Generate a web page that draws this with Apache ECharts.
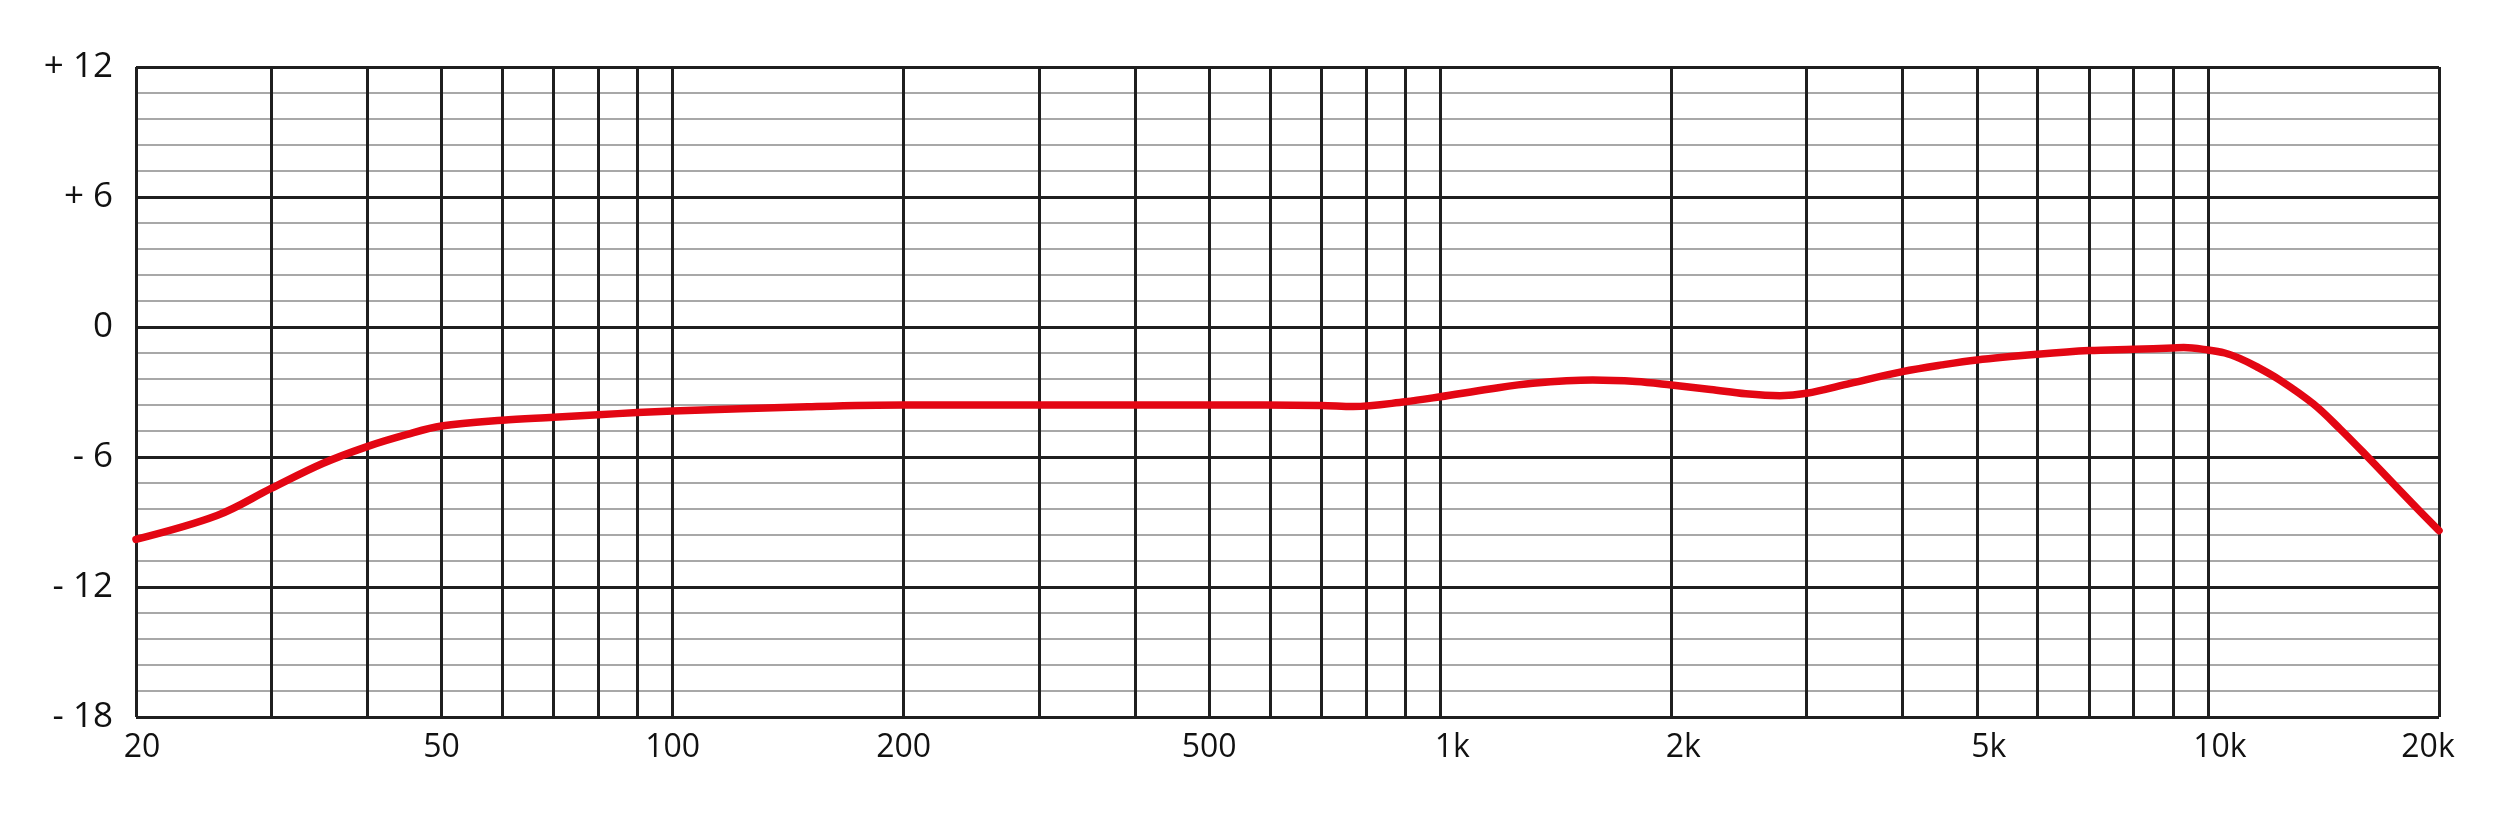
<!DOCTYPE html>
<html>
<head>
<meta charset="utf-8">
<script src="https://cdn.jsdelivr.net/npm/echarts@6/dist/echarts.min.js"></script>
<style>
html,body{margin:0;padding:0;background:#fff;}
#chart{width:2514px;height:816px;}
</style>
</head>
<body>
<div id="chart"></div>
<script>
// Frequency response data (Hz, dB)
const freqs = [20, 25.5, 30, 35, 40, 45, 50, 60, 70, 80, 90, 100, 150, 200, 300, 500, 700, 770, 900, 1000, 1160, 1320, 1580, 1800, 2000, 2250, 2500, 2770, 3000, 3420, 4000, 4500, 5000, 6000, 7000, 8000, 9000, 9300, 10000, 10520, 11000, 11570, 12410, 13720, 14860, 16100, 17350, 18700, 20000];
const levels = [-9.8, -8.7, -7.45, -6.3, -5.52, -4.97, -4.57, -4.3, -4.17, -4.05, -3.95, -3.88, -3.68, -3.6, -3.6, -3.6, -3.62, -3.67, -3.45, -3.22, -2.86, -2.6, -2.45, -2.52, -2.68, -2.88, -3.08, -3.17, -3.06, -2.6, -2.06, -1.75, -1.52, -1.26, -1.09, -1.03, -0.97, -0.95, -1.06, -1.2, -1.45, -1.83, -2.45, -3.55, -4.7, -5.95, -7.15, -8.35, -9.4];

// Vertical grid line frequencies
const gridFreqs = [20, 30, 40, 50, 60, 70, 80, 90, 100, 200, 300, 400, 500, 600, 700, 800, 900, 1000, 2000, 3000, 4000, 5000, 6000, 7000, 8000, 9000, 10000, 20000];
// X tick labels
const xLabelFreqs = [20, 50, 100, 200, 500, 1000, 2000, 5000, 10000, 20000];
const xLabelTexts = ['20', '50', '100', '200', '500', '1k', '2k', '5k', '10k', '20k'];
// Y tick labels
const yTicks = [-18, -12, -6, 0, 6, 12];
const yTickLabels = ['- 18', '- 12', '- 6', '0', '+ 6', '+ 12'];

const FONT = '"Open Sans", "Noto Sans", sans-serif';
const DARK = '#1f1f1f';

function labelPadding(i) {
  const t = xLabelTexts[i];
  if (i === 0) return [0, 0, 0, 12];
  if (i === xLabelTexts.length - 1) return [0, 22, 0, 0];
  if (t.endsWith('k')) return [0, 0, 0, 24];
  return [0, 0, 0, 0];
}

const markData = gridFreqs.map(function (f) {
  const li = xLabelFreqs.indexOf(f);
  const item = { xAxis: f };
  if (li >= 0) {
    item.label = {
      show: true,
      position: 'start',
      distance: 15,
      formatter: '{t|' + xLabelTexts[li] + '}',
      rich: { t: { fontSize: 32, fontFamily: FONT, color: '#111', padding: labelPadding(li) } }
    };
  } else {
    item.label = { show: false };
  }
  return item;
});

const chart = echarts.init(document.getElementById('chart'), null, { renderer: 'canvas' });
chart.setOption({
  animation: false,
  backgroundColor: '#ffffff',
  grid: { left: 136, right: 75, top: 67, bottom: 99, containLabel: false },
  xAxis: {
    type: 'log',
    logBase: 10,
    min: 20,
    max: 20000,
    axisLine: { show: false, onZero: false },
    axisTick: { show: false },
    axisLabel: { show: false },
    splitLine: { show: false }
  },
  yAxis: {
    type: 'value',
    min: -18,
    max: 12,
    interval: 6,
    axisLine: { show: false },
    axisTick: { show: false },
    axisLabel: {
      margin: 23,
      fontSize: 35,
      fontFamily: FONT,
      color: '#111',
      formatter: function (v) {
        const i = yTicks.indexOf(v);
        return i >= 0 ? yTickLabels[i] : '';
      }
    },
    splitLine: { show: true, lineStyle: { color: DARK, width: 3 } },
    minorTick: { show: false, splitNumber: 5 },
    minorSplitLine: { show: true, lineStyle: { color: '#8c8c8c', width: 1.5 } }
  },
  series: [
    {
      type: 'line',
      name: 'grid',
      data: [],
      z: 1,
      silent: true,
      markLine: {
        silent: true,
        symbol: ['none', 'none'],
        animation: false,
        emphasis: { disabled: true },
        lineStyle: { color: DARK, width: 3, type: 'solid' },
        data: markData
      }
    },
    {
      type: 'line',
      name: 'response',
      z: 5,
      data: freqs.map(function (f, i) { return [f, levels[i]]; }),
      showSymbol: false,
      smooth: 0.35,
      lineStyle: { color: '#e30613', width: 7.5, cap: 'round', join: 'round' },
      itemStyle: { color: '#e30613' }
    }
  ]
});
</script>
</body>
</html>
